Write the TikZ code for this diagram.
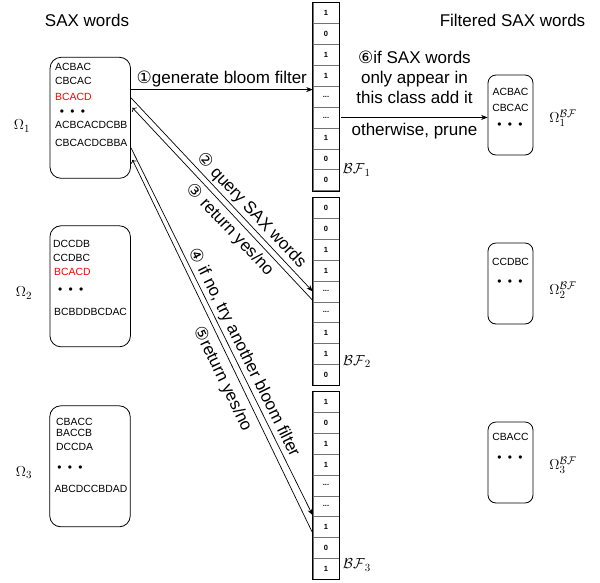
\documentclass[tikz,border=0pt]{standalone}
\usepackage{fontspec}
\usepackage{amsmath}
\usepackage{amssymb}
\usepackage{xcolor}
\usetikzlibrary{arrows.meta}
\setmainfont{Liberation Sans}
\newfontfamily\circfont{DejaVu Sans}

\newcommand{\cnum}[1]{{\circfont #1}}
\newcommand{\bfdots}{...}
\newcommand{\wdots}{\makebox[10.5pt]{\textbullet}\makebox[10.5pt]{\textbullet}\makebox[10.5pt]{\textbullet}}

\tikzset{
  wordbox/.style={draw, line width=0.8pt, rounded corners=11pt, minimum width=80.5pt, minimum height=121pt},
  filtbox/.style={draw, line width=0.8pt, rounded corners=8pt, minimum width=45pt, minimum height=80pt},
  word/.style={anchor=west, inner sep=0pt, font=\fontsize{10.4}{12}\selectfont},
  fword/.style={inner sep=0pt, font=\fontsize{10.4}{12}\selectfont},
  wdot/.style={inner sep=0pt, font=\fontsize{12}{12}\selectfont},
  bfcell/.style={draw=black!55, line width=0.6pt, minimum width=26pt, minimum height=20.9pt, inner sep=0pt, font=\fontsize{7.5}{9}\selectfont\bfseries},
  bfframe/.style={draw, line width=0.8pt},
  flow/.style={-{Stealth[length=6.5pt,width=5pt]}, line width=0.7pt},
  lbl/.style={inner sep=2pt, font=\fontsize{17}{20}\selectfont},
  headline/.style={font=\fontsize{17}{20}\selectfont},
  omega/.style={font=\fontsize{15}{18}\selectfont},
}

\begin{document}
\begin{tikzpicture}[x=1pt,y=-1pt]
\useasboundingbox (0,0) rectangle (600,582);

% titles
\node[headline] (tsax) at (87,20.7) {SAX words};
\node[headline] (tfilt) at (512.5,20.7) {Filtered SAX words};

% class words
\node[wordbox] (box1) at (90.3,117.8) {};
\node[word] (w1a) at (55,66.7) {ACBAC};
\node[word] (w1b) at (55,80.7) {CBCAC};
\node[word, text=red] (w1c) at (55,96.7) {BCACD};
\node[wdot] (w1d) at (72.5,112.7) {\wdots};
\node[word] (w1e) at (55,124.7) {ACBCACDCBB};
\node[word] (w1f) at (55,142.7) {CBCACDCBBA};
\node[omega] (om1) at (22,126) {$\Omega_1$};

\node[wordbox] (box2) at (90.2,286.3) {};
\node[word] (w2a) at (53,244) {DCCDB};
\node[word] (w2b) at (53,258.3) {CCDBC};
\node[word, text=red] (w2c) at (54,272.3) {BCACD};
\node[wdot] (w2d) at (70.8,290.7) {\wdots};
\node[word] (w2e) at (54,311.7) {BCBDDBCDAC};
\node[omega] (om2) at (24,293) {$\Omega_2$};

\node[wordbox] (box3) at (90,466.3) {};
\node[word] (w3a) at (56,422.3) {CBACC};
\node[word] (w3b) at (56,433.3) {BACCB};
\node[word] (w3c) at (56,446.7) {DCCDA};
\node[wdot] (w3d) at (70,468.3) {\wdots};
\node[word] (w3e) at (54.3,489) {ABCDCCBDAD};
\node[omega] (om3) at (24,472.7) {$\Omega_3$};

% bloom filters
\foreach \v [count=\i] in {1,0,1,1,\bfdots,\bfdots,1,0,0}
  \node[bfcell] (bfA\i) at (326,{2.5+(\i-0.5)*20.9}) {\v};
\draw[bfframe] (bfA1.north west) rectangle (bfA9.south east);
\foreach \v [count=\i] in {0,0,1,1,\bfdots,\bfdots,1,1,0}
  \node[bfcell] (bfB\i) at (326,{197.3+(\i-0.5)*20.9}) {\v};
\draw[bfframe] (bfB1.north west) rectangle (bfB9.south east);
\foreach \v [count=\i] in {1,0,1,1,\bfdots,\bfdots,1,0,1}
  \node[bfcell] (bfC\i) at (326,{391.3+(\i-0.5)*20.9}) {\v};
\draw[bfframe] (bfC1.north west) rectangle (bfC9.south east);

\node[omega] (bfl1) at (356.7,170) {$\mathcal{BF}_1$};
\node[omega] (bfl2) at (357,361.7) {$\mathcal{BF}_2$};
\node[omega] (bfl3) at (357,565) {$\mathcal{BF}_3$};

% filtered words
\node[filtbox] (fbox1) at (510.5,115) {};
\node[fword] (f1a) at (510.5,91.7) {ACBAC};
\node[fword] (f1b) at (510.5,108.3) {CBCAC};
\node[wdot] (f1c) at (510,126) {\wdots};
\node[omega] (fom1) at (563,118) {$\Omega_1^{\mathcal{BF}}$};

\node[filtbox, minimum height=81pt] (fbox2) at (510.5,283.5) {};
\node[fword] (f2a) at (510.5,261.7) {CCDBC};
\node[wdot] (f2b) at (510,282.7) {\wdots};
\node[omega] (fom2) at (563,290) {$\Omega_2^{\mathcal{BF}}$};

\node[filtbox, minimum height=81pt] (fbox3) at (510.5,462.5) {};
\node[fword] (f3a) at (510.5,436.7) {CBACC};
\node[wdot] (f3b) at (510,459) {\wdots};
\node[omega] (fom3) at (563,465) {$\Omega_3^{\mathcal{BF}}$};

% steps
\coordinate (gen) at ([yshift=7pt]bfA5.west);
\draw[flow] (gen -| box1.east) -- (gen)
  node[lbl, midway, above] {\cnum{①}generate bloom filter};
\draw[flow] ([xshift=2pt]bfA6.east) -- (fbox1.west |- bfA6.east)
  node[lbl, midway, above=11pt, align=center] {\cnum{⑥}if SAX words\\only appear in\\this class add it}
  node[lbl, midway, below=3pt] {otherwise, prune};
\draw[flow] ([yshift=20pt]box1.east) -- (bfB5.west)
  node[lbl, pos=0.62, above, sloped] {\cnum{②} query SAX words};
\draw[flow, <-] ([yshift=10pt, xshift=1.5pt]box1.east) -- ([yshift=-9pt]bfB5.west)
  node[lbl, pos=0.59, below=2pt, sloped] {\cnum{③} return yes/no};
\draw[flow] ([yshift=-30pt]box1.east) -- ([yshift=-9pt]bfC6.west)
  node[lbl, pos=0.57, above, sloped] {\cnum{④} if no, try another bloom filter};
\draw[flow, <-] ([yshift=-42pt, xshift=1.5pt]box1.east) -- ([yshift=-6pt]bfC7.west)
  node[lbl, pos=0.57, below=4pt, sloped] {\cnum{⑤}return yes/no};
\end{tikzpicture}
\end{document}
